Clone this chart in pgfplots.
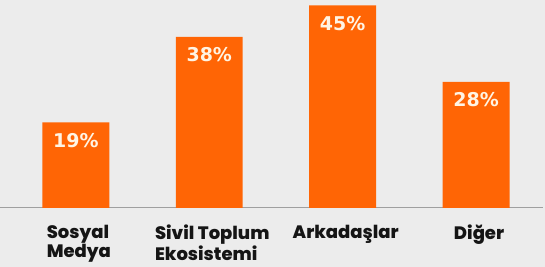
\documentclass[border=0pt]{standalone}
\usepackage{fontspec}
\setmainfont{Poppins}[BoldFont={Poppins ExtraBold}]
\newfontfamily\valfont{DejaVu Sans}
\usepackage{pgfplots}
\pgfplotsset{compat=1.18}
\definecolor{barC}{HTML}{FF6505}
\definecolor{bgC}{HTML}{ECECEC}
\definecolor{txtC}{HTML}{151515}
\definecolor{valC}{HTML}{FFF4E4}
\begin{document}
\begin{tikzpicture}
\begin{axis}[
  scale only axis,
  width=545pt, height=267pt,
  xmin=-0.5655, xmax=3.5169,
  ymin=-13.11, ymax=46.22,
  axis background/.style={fill=bgC},
  axis line style={draw=none},
  tick style={draw=none},
  ytick=\empty,
  xtick={0,1,2,3},
  xticklabels={{Sosyal\\Medya},{Sivil Toplum\\Ekosistemi},{\raisebox{5pt}{Arkadaşlar}},{\raisebox{5pt}{Diğer}}},
  xticklabel style={anchor=north, inner sep=0pt, align=left, yshift=42pt, xshift=3pt,
    font=\fontsize{18}{17.5}\selectfont\bfseries, text=txtC},
  clip=false,
]
\addplot[draw=gray!75, line width=0.9pt, forget plot] coordinates {(-0.5655,0) (3.50,0)};
\addplot[ybar, fill=barC, draw=none, bar width=67pt,
  nodes near coords={\pgfmathprintnumber[assume math mode=true]{\pgfplotspointmeta}\%},
  every node near coord/.append style={anchor=north, inner sep=0pt, yshift=-10.5pt,
    font=\valfont\bfseries\fontsize{19}{20}\selectfont, text=valC}]
  coordinates {(0,19) (1,38) (2,45) (3,28)};
\end{axis}
\end{tikzpicture}
\end{document}
